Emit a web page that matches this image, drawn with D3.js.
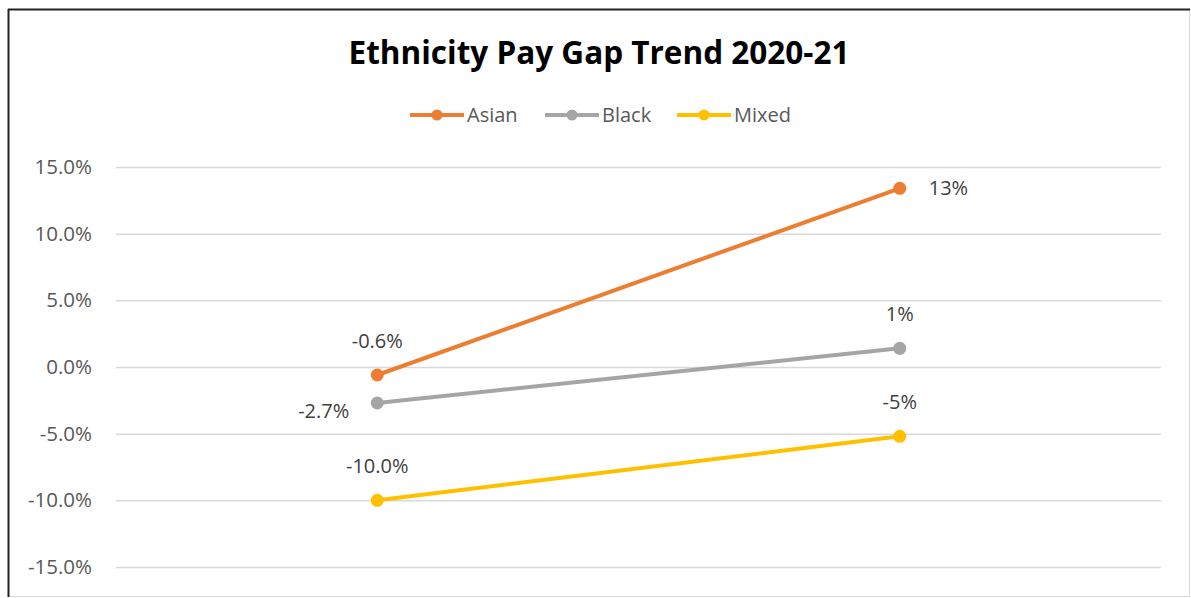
<!DOCTYPE html>
<html><head><meta charset="utf-8">
<script src="https://cdn.jsdelivr.net/npm/d3@7"></script>
<style>body{margin:0;background:#fff;}svg{display:block;font-family:"Open Sans",sans-serif;}</style>
</head><body>
<svg id="c" width="1191" height="598"></svg>
<script>
const categories = ["2020", "2021"];
const seriesNames = ["Asian", "Black", "Mixed"];
const asian = [-0.6, 13.4];
const black = [-2.7, 1.4];
const mixed = [-10.0, -5.2];
const labelsAsian = ["-0.6%", "13%"];
const labelsBlack = ["-2.7%", "1%"];
const labelsMixed = ["-10.0%", "-5%"];
const yTicks = [-15, -10, -5, 0, 5, 10, 15];
const colors = ["#ED7D31", "#A5A5A5", "#FFC000"];

const series = [
  {name: seriesNames[0], values: asian, labels: labelsAsian, color: colors[0], pos: ["above", "right"]},
  {name: seriesNames[1], values: black, labels: labelsBlack, color: colors[1], pos: ["left", "above"]},
  {name: seriesNames[2], values: mixed, labels: labelsMixed, color: colors[2], pos: ["above", "above"]}
];

const svg = d3.select("#c");
// border
svg.append("rect").attr("x", 8.5).attr("y", 9.5).attr("width", 1181).attr("height", 587)
  .attr("fill", "#fff").attr("stroke", "#d9d9d9").attr("stroke-width", 1);
svg.append("line").attr("x1", 8).attr("x2", 1190).attr("y1", 9.5).attr("y2", 9.5).attr("stroke", "#222").attr("stroke-width", 2);
svg.append("line").attr("x1", 8.5).attr("x2", 8.5).attr("y1", 9).attr("y2", 597).attr("stroke", "#222").attr("stroke-width", 2);

const left = 116, right = 1161;
const x = d3.scaleBand().domain(categories).range([left, right]);
const y = d3.scaleLinear().domain([-15, 15]).range([567, 167]);

// gridlines
svg.append("g").selectAll("line").data(yTicks).join("line")
  .attr("x1", left).attr("x2", right)
  .attr("y1", d => y(d) + 0.5).attr("y2", d => y(d) + 0.5)
  .attr("stroke", "#d9d9d9").attr("stroke-width", 1.5);

// y axis labels
const yAxis = d3.axisLeft(y).tickValues(yTicks).tickSize(0).tickPadding(0)
  .tickFormat(d => d3.format(".1f")(d).replace("\u2212", "-") + "%");
const ga = svg.append("g").attr("transform", "translate(92,0)").call(yAxis);
ga.select(".domain").remove();
ga.selectAll("text").attr("fill", "#595959").style("font-size", "20.5px").style("font-family", "'Open Sans', sans-serif");

// title
svg.append("text").attr("x", 599).attr("y", 64).attr("text-anchor", "middle")
  .style("font-size", "31.5px").style("font-weight", "bold").attr("fill", "#000")
  .text("Ethnicity Pay Gap Trend 2020-21");

// legend
const legendX = [410, 545, 677];
const lg = svg.append("g");
series.forEach((s, i) => {
  const g = lg.append("g").attr("transform", `translate(${legendX[i]},115)`);
  g.append("line").attr("x1", 0).attr("x2", 54).attr("y1", 0).attr("y2", 0).attr("stroke", s.color).attr("stroke-width", 4);
  g.append("circle").attr("cx", 27).attr("cy", 0).attr("r", 5.5).attr("fill", s.color);
  g.append("text").attr("x", 57).attr("y", 7).attr("fill", "#595959").style("font-size", "20px").text(s.name);
});

const line = d3.line().x((d, i) => x(categories[i]) + x.bandwidth() / 2).y(d => y(d));
series.forEach(s => {
  svg.append("path").datum(s.values).attr("d", line).attr("fill", "none")
    .attr("stroke", s.color).attr("stroke-width", 4).attr("stroke-linecap", "round");
  svg.append("g").selectAll("circle").data(s.values).join("circle")
    .attr("cx", (d, i) => x(categories[i]) + x.bandwidth() / 2).attr("cy", d => y(d))
    .attr("r", 6.5).attr("fill", s.color);
  svg.append("g").selectAll("text").data(s.values).join("text")
    .attr("x", (d, i) => {
      const cx = x(categories[i]) + x.bandwidth() / 2;
      if (s.pos[i] === "right") return cx + 29;
      if (s.pos[i] === "left") return cx - 28;
      return cx;
    })
    .attr("y", (d, i) => {
      const cy = y(d);
      if (s.pos[i] === "above") return cy - 27;
      if (s.pos[i] === "left") return cy + 15;
      return cy + 7;
    })
    .attr("text-anchor", (d, i) => s.pos[i] === "right" ? "start" : (s.pos[i] === "left" ? "end" : "middle"))
    .attr("fill", "#404040").style("font-size", "20px")
    .text((d, i) => s.labels[i]);
});
</script>
</body></html>
